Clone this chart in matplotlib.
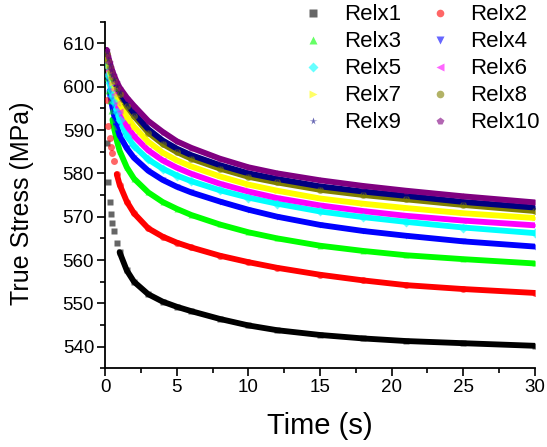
import matplotlib
matplotlib.use("Agg")
import matplotlib.pyplot as plt
from matplotlib.lines import Line2D
from matplotlib.ticker import MultipleLocator
import numpy as np

plt.rcParams['font.family'] = ['Liberation Sans', 'DejaVu Sans']

# time stamps (s)
time = [0.1, 0.2, 0.3, 0.4, 0.5, 0.6, 0.8, 1.0, 1.5, 2, 3, 4, 5, 6, 8, 10, 12, 15, 18, 21, 25, 30]

# true stress for each test (MPa)
relx1 = [587.0, 578.0, 573.5, 570.6, 568.5, 566.8, 564.0, 561.8, 557.6, 555.0, 552.1, 550.4, 549.2, 548.2, 546.4, 544.9, 543.8, 542.7, 541.9, 541.3, 540.8, 540.2]
relx2 = [597.0, 591.0, 588.2, 586.0, 584.6, 582.8, 579.8, 577.4, 573.5, 570.8, 567.3, 565.4, 564.0, 562.9, 561.0, 559.5, 558.2, 556.6, 555.3, 554.2, 553.3, 552.4]
relx3 = [602.0, 599.0, 596.6, 594.4, 592.4, 590.6, 587.6, 585.2, 581.4, 578.8, 575.6, 573.4, 571.8, 570.4, 568.2, 566.4, 565.0, 563.3, 562.1, 561.1, 560.2, 559.2]
relx4 = [604.0, 601.3, 599.0, 597.0, 595.2, 593.6, 590.9, 588.7, 585.8, 583.6, 580.6, 578.5, 576.9, 575.6, 573.5, 571.6, 570.0, 568.1, 566.7, 565.6, 564.3, 563.1]
relx5 = [605.0, 602.8, 600.9, 599.3, 597.8, 596.5, 594.2, 592.3, 588.7, 586.3, 583.2, 581.1, 579.5, 578.2, 576.1, 574.4, 573.0, 571.2, 569.9, 568.8, 567.5, 566.2]
relx6 = [605.8, 603.9, 602.3, 600.8, 599.5, 598.3, 596.2, 594.4, 591.0, 588.6, 585.3, 583.0, 581.3, 579.9, 577.6, 575.8, 574.3, 572.6, 571.3, 570.2, 569.1, 568.0]
relx7 = [606.5, 604.8, 603.3, 602.0, 600.8, 599.7, 597.8, 596.2, 593.1, 590.8, 587.3, 584.8, 583.0, 581.6, 579.3, 577.4, 576.0, 574.2, 573.0, 572.0, 570.8, 569.7]
relx8 = [607.5, 606.0, 604.6, 603.4, 602.3, 601.3, 599.6, 598.2, 595.5, 593.2, 589.4, 586.8, 584.9, 583.4, 581.1, 579.2, 577.9, 576.2, 575.0, 574.0, 572.7, 571.3]
relx9 = [608.0, 606.5, 605.1, 603.9, 602.8, 601.8, 600.1, 598.7, 596.1, 593.9, 590.2, 587.6, 585.7, 584.2, 581.9, 580.0, 578.7, 577.0, 575.8, 574.8, 573.4, 572.1]
relx10 = [608.5, 607.0, 605.8, 604.6, 603.6, 602.7, 601.1, 599.8, 597.5, 595.6, 592.1, 589.6, 587.4, 585.9, 583.4, 581.4, 580.0, 578.4, 577.1, 576.0, 574.7, 573.3]

series = [relx1, relx2, relx3, relx4, relx5, relx6, relx7, relx8, relx9, relx10]
names = ['Relx1', 'Relx2', 'Relx3', 'Relx4', 'Relx5', 'Relx6', 'Relx7', 'Relx8', 'Relx9', 'Relx10']
colors = ['#000000', '#FF0000', '#00FF00', '#0000FF', '#00FFFF',
          '#FF00FF', '#FFFF00', '#808000', '#000080', '#800080']
markers = ['s', 'o', '^', 'v', 'D', '<', '>', 'o', '*', 'p']
# from where the points merge into a solid band (s)
band_from = [1.0, 0.8, 0.5, 0.3, 0.1, 0.1, 0.1, 0.1, 0.1, 0.1]

t = np.array(time)

fig = plt.figure(figsize=(5.47, 4.47), dpi=100)
ax = fig.add_axes([0.1925, 0.176, 0.785, 0.7755])

for s, c, m, t0 in zip(series, colors, markers, band_from):
    s = np.array(s)
    k = t >= t0
    ax.plot(t[k], s[k], '-', color=c, lw=4.2, solid_capstyle='round', zorder=2)
    ax.plot(t, s, m, color=c, ms=5, mec='none', alpha=0.6, zorder=3)

ax.set_xlim(0, 30)
ax.set_ylim(535, 615)
ax.xaxis.set_major_locator(MultipleLocator(5))
ax.xaxis.set_minor_locator(MultipleLocator(2.5))
ax.yaxis.set_minor_locator(MultipleLocator(5))
ax.yaxis.set_ticks([540, 550, 560, 570, 580, 590, 600, 610])
ax.spines['top'].set_visible(False)
ax.spines['right'].set_visible(False)
for sp in ['left', 'bottom']:
    ax.spines[sp].set_linewidth(1.3)
ax.tick_params(which='major', direction='out', length=6, width=1.2, labelsize=13.5, pad=2)
ax.tick_params(which='minor', direction='out', length=3.5, width=1.2)

ax.set_xlabel('Time (s)', fontsize=21)
ax.set_ylabel('True Stress (MPa)', fontsize=18)
ax.xaxis.set_label_coords(0.5, -0.125)
ax.yaxis.set_label_coords(-0.165, 0.477)

handles = [Line2D([], [], ls='none', marker=m, color=c, ms=5.5, mec='none', alpha=0.6)
           for c, m in zip(colors, markers)]
# legend is filled row by row in the picture
order = [0, 2, 4, 6, 8, 1, 3, 5, 7, 9]
fig.legend([handles[i] for i in order], [names[i] for i in order],
           loc='upper right', bbox_to_anchor=(0.995, 1.0), ncol=2,
           frameon=False, fontsize=16, handlelength=1.0, handletextpad=0.86,
           columnspacing=1.27, labelspacing=0.27, borderpad=0.1, borderaxespad=0.1)

fig.savefig('out.png', dpi=100)
